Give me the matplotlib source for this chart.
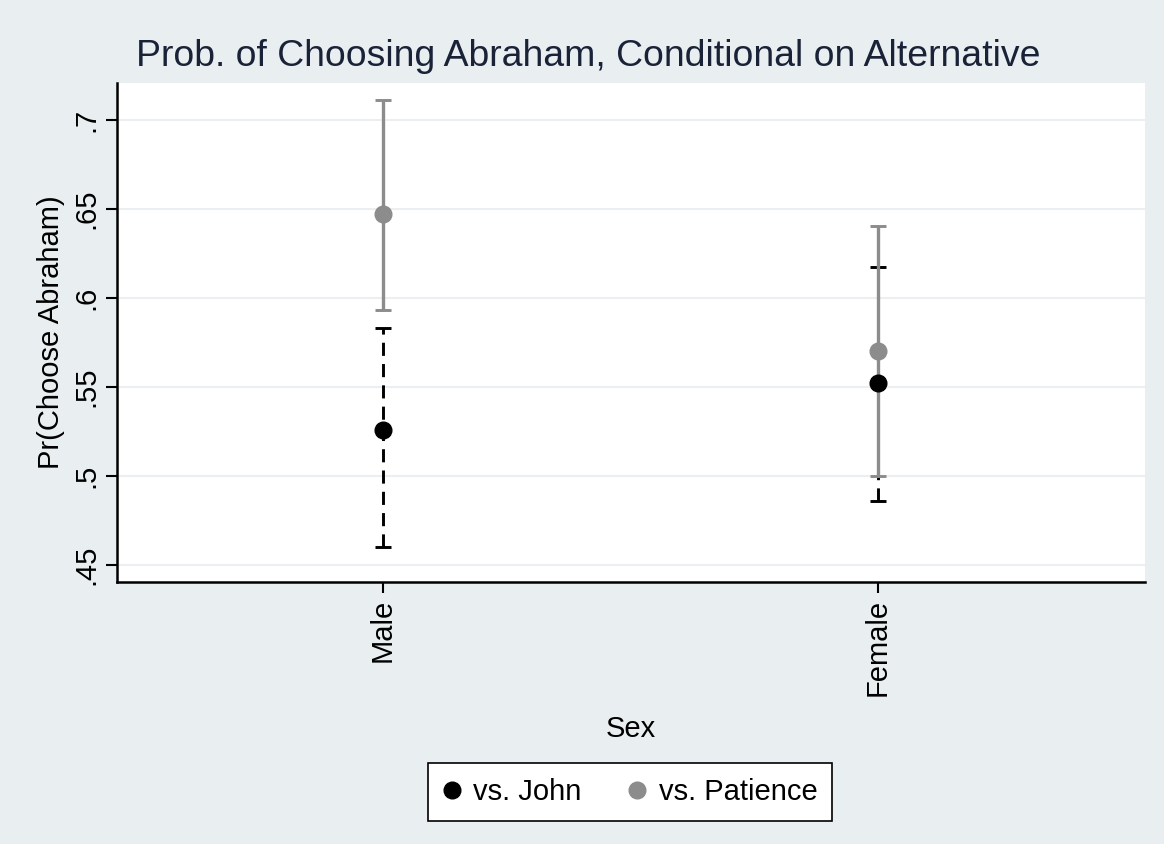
import numpy as np
import matplotlib.pyplot as plt

plt.rcParams['font.family'] = ['Liberation Sans', 'DejaVu Sans']

# data
sexes = ["Male", "Female"]
john_est = [0.526, 0.552]
john_lo = [0.460, 0.486]
john_hi = [0.583, 0.617]
pat_est = [0.647, 0.570]
pat_lo = [0.593, 0.500]
pat_hi = [0.711, 0.640]
yticks = [0.45, 0.5, 0.55, 0.6, 0.65, 0.7]
ytick_labels = [".45", ".5", ".55", ".6", ".65", ".7"]

bg = "#e9eff1"
grey = "#8c8c8c"

fig = plt.figure(figsize=(11.64, 8.44), dpi=100, facecolor=bg)
ax = fig.add_axes([0.1005, 0.3104, 0.8832, 0.5913])
ax.set_facecolor("white")

x = np.arange(len(sexes))

# john (black, dashed)
ax.errorbar(x, john_est, yerr=[np.array(john_est) - john_lo, np.array(john_hi) - john_est],
            fmt="none", ecolor="black", elinewidth=2.1, capsize=6, capthick=2.1, zorder=2)
ax.collections[-1].set_linestyle((0, (4.5, 2.8)))
# patience (grey, solid)
ax.errorbar(x, pat_est, yerr=[np.array(pat_est) - pat_lo, np.array(pat_hi) - pat_est],
            fmt="none", ecolor=grey, elinewidth=2.4, capsize=6, capthick=2.1, zorder=3)

ax.plot(x, john_est, "o", color="black", ms=12, zorder=4, label="vs. John")
ax.plot(x, pat_est, "o", color=grey, ms=12, zorder=4, label="vs. Patience")

ax.set_xlim(-0.537, 1.539)
ax.set_ylim(0.4405, 0.7205)

ax.set_yticks(yticks)
ax.set_yticklabels(ytick_labels, rotation=90, va="center", fontsize=21)
ax.set_xticks(x)
ax.set_xticklabels(sexes, rotation=90, fontsize=21)
ax.tick_params(axis="both", length=8, width=1.5, color="black", pad=4)

ax.grid(axis="y", color="#ebeff1", lw=1.5)
ax.set_axisbelow(True)

for s in ["top", "right"]:
    ax.spines[s].set_visible(False)
for s in ["left", "bottom"]:
    ax.spines[s].set_linewidth(1.8)

ax.set_ylabel("Pr(Choose Abraham)", fontsize=21, labelpad=5)
ax.set_xlabel("Sex", fontsize=21, labelpad=14)

fig.text(0.505, 0.933, "Prob. of Choosing Abraham, Conditional on Alternative",
         ha="center", va="center", fontsize=26.9, color="#1a2238")

leg = fig.legend(loc="center", bbox_to_anchor=(0.5415, 0.0616), ncol=2, fontsize=21,
                 frameon=True, fancybox=False, edgecolor="black", facecolor="white",
                 framealpha=1, handletextpad=0.45, columnspacing=1.6,
                 handlelength=0.6, borderpad=0.5)
leg.get_frame().set_linewidth(1.2)

fig.savefig("out.png", dpi=100, facecolor=bg)
